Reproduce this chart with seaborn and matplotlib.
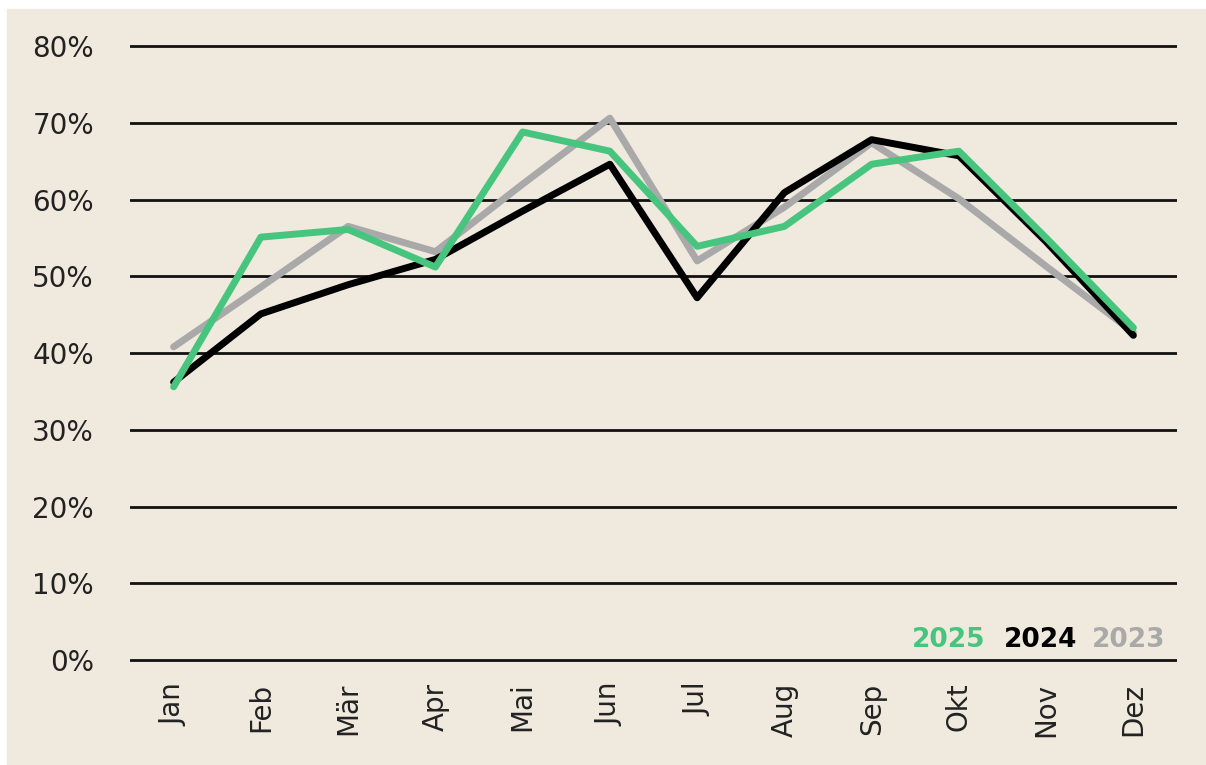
import pandas as pd
import matplotlib.pyplot as plt
import matplotlib.patches as mpatches
import seaborn as sns

months = ["Jan", "Feb", "Mär", "Apr", "Mai", "Jun", "Jul", "Aug", "Sep", "Okt", "Nov", "Dez"]
y2025 = [35.6, 55.1, 56.1, 51.2, 68.8, 66.3, 53.9, 56.5, 64.6, 66.3, 55.0, 43.3]
y2024 = [36.2, 45.1, 48.9, 52.2, 58.5, 64.6, 47.2, 60.9, 67.8, 65.7, 54.5, 42.3]
y2023 = [40.8, 48.6, 56.5, 53.2, 62.0, 70.6, 52.0, 59.0, 67.4, 60.1, 51.3, 42.7]
yticks = [0, 10, 20, 30, 40, 50, 60, 70, 80]

bg = "#F0EADE"
colors = {"2023": "#A9A9A9", "2024": "#000000", "2025": "#47C57F"}

df = pd.DataFrame({
    "Monat": list(range(12)) * 3,
    "Wert": y2023 + y2024 + y2025,
    "Jahr": ["2023"] * 12 + ["2024"] * 12 + ["2025"] * 12,
})

sns.set_style("white")
plt.rcParams["font.family"] = ["DejaVu Sans"]

fig = plt.figure(figsize=(12.06, 7.65), dpi=100, facecolor="white")
fig.patches.append(mpatches.Rectangle((7 / 1206, 0), 1 - 7 / 1206, 1 - 9 / 765,
                                      transform=fig.transFigure, color=bg, zorder=-1))
ax = fig.add_axes([130 / 1206, 100.4 / 765, 1047 / 1206, 622.4 / 765])
ax.set_facecolor(bg)

for t in yticks:
    ax.axhline(t, color="#111111", lw=2.0, zorder=1)

sns.lineplot(data=df, x="Monat", y="Wert", hue="Jahr", hue_order=["2023", "2024", "2025"],
             palette=colors, lw=5, legend=False, ax=ax, zorder=3)

ax.set_xlim(-0.5, 11.5)
ax.set_ylim(-0.6, 80.5)
ax.set_xticks(range(12))
ax.set_xticklabels(months, rotation=90, fontsize=20, color="#222222")
ax.set_yticks(yticks)
ax.set_yticklabels([f"{t}%" for t in yticks], fontsize=20, color="#222222")
ax.tick_params(axis="x", length=0, pad=13)
ax.tick_params(axis="y", length=0, pad=26)
ax.set_xlabel("")
ax.set_ylabel("")
for s in ax.spines.values():
    s.set_visible(False)

for label, xr in [("2025", 0.8166), ("2024", 0.9045), ("2023", 0.9885)]:
    ax.text(xr, 2.6, label, transform=ax.get_yaxis_transform(), ha="right", va="center",
            fontsize=19, fontweight="bold", color=colors[label])

fig.savefig("out.png", dpi=100, facecolor="white")
